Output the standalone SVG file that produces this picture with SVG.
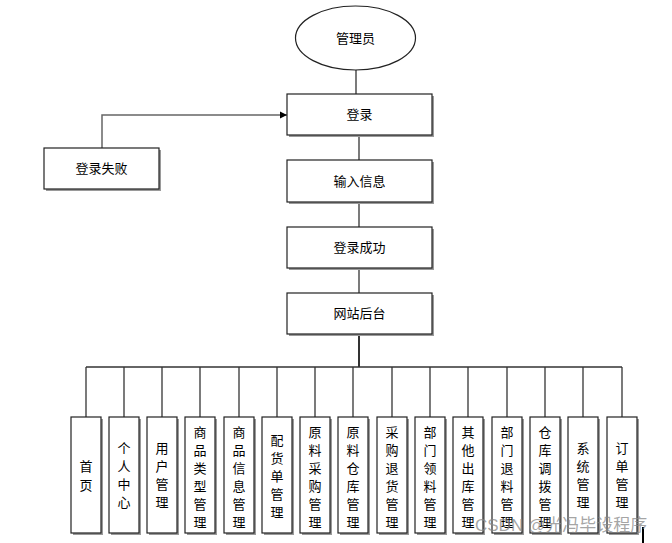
<svg xmlns="http://www.w3.org/2000/svg" width="672" height="543" viewBox="0 0 672 543">
<defs>
<style>
.box{fill:#fff;stroke:#222;stroke-width:1.2}
.sh{fill:#9a9a9a}
.t{font-family:"Liberation Sans","Noto Sans CJK SC",sans-serif;font-size:13px;fill:#000;text-anchor:middle;dominant-baseline:central}
.ln{fill:none;stroke:#333;stroke-width:1.3}
</style>
<marker id="arr" markerWidth="8" markerHeight="8" refX="7" refY="4" orient="auto" markerUnits="userSpaceOnUse">
<path d="M0,0.5 L7,4 L0,7.5 z" fill="#000"/>
</marker>
</defs>
<rect width="672" height="543" fill="#fff"/>
<g id="connectors">
<line class="ln" x1="356" y1="70" x2="356" y2="94"/>
<line class="ln" x1="359" y1="135" x2="359" y2="160"/>
<line class="ln" x1="359" y1="202" x2="359" y2="227"/>
<line class="ln" x1="359" y1="268" x2="359" y2="293"/>
<line class="ln" x1="359" y1="334" x2="359" y2="367" style="stroke-width:2"/>
<polyline class="ln" points="102,148 102,115 287,115" marker-end="url(#arr)" style="stroke:#666;stroke-width:1.5"/>
<line class="ln" x1="86" y1="367" x2="622" y2="367" style="stroke-width:1.6"/>
<g id="drops">
<line class="ln" x1="86" y1="367" x2="86" y2="417"/>
<line class="ln" x1="124" y1="367" x2="124" y2="417"/>
<line class="ln" x1="162" y1="367" x2="162" y2="417"/>
<line class="ln" x1="200" y1="367" x2="200" y2="417"/>
<line class="ln" x1="239" y1="367" x2="239" y2="417"/>
<line class="ln" x1="277" y1="367" x2="277" y2="417"/>
<line class="ln" x1="315" y1="367" x2="315" y2="417"/>
<line class="ln" x1="353" y1="367" x2="353" y2="417"/>
<line class="ln" x1="392" y1="367" x2="392" y2="417"/>
<line class="ln" x1="430" y1="367" x2="430" y2="417"/>
<line class="ln" x1="468" y1="367" x2="468" y2="417"/>
<line class="ln" x1="507" y1="367" x2="507" y2="417"/>
<line class="ln" x1="545" y1="367" x2="545" y2="417"/>
<line class="ln" x1="583" y1="367" x2="583" y2="417"/>
<line class="ln" x1="622" y1="367" x2="622" y2="417"/>
</g>
</g>
<g id="admin">
<ellipse cx="355.5" cy="38" rx="60" ry="32" fill="#fff" stroke="#222" stroke-width="1.2"/>
<text class="t" x="355.5" y="38">管理员</text>
</g>
<g id="login">
<rect class="sh" x="289" y="96" width="145" height="41"/>
<rect class="box" x="287" y="94" width="145" height="41"/>
<text class="t" x="359.5" y="114.5">登录</text>
</g>
<g id="loginfail">
<rect class="sh" x="46" y="150" width="115" height="41"/>
<rect class="box" x="44" y="148" width="115" height="41"/>
<text class="t" x="101.5" y="168.5">登录失败</text>
</g>
<g id="input">
<rect class="sh" x="289" y="162" width="145" height="42"/>
<rect class="box" x="287" y="160" width="145" height="42"/>
<text class="t" x="359.5" y="181">输入信息</text>
</g>
<g id="loginok">
<rect class="sh" x="289" y="229" width="145" height="41"/>
<rect class="box" x="287" y="227" width="145" height="41"/>
<text class="t" x="359.5" y="247.5">登录成功</text>
</g>
<g id="backend">
<rect class="sh" x="289" y="295" width="145" height="41"/>
<rect class="box" x="287" y="293" width="145" height="41"/>
<text class="t" x="359.5" y="313.5">网站后台</text>
</g>
<g id="m1"><rect class="sh" x="73" y="419" width="30" height="116"/><rect class="box" x="71" y="417" width="30" height="116"/>
<text class="t" x="86"><tspan x="86" y="466">首</tspan><tspan x="86" y="485">页</tspan></text></g>
<g id="m2"><rect class="sh" x="111" y="419" width="30" height="116"/><rect class="box" x="109" y="417" width="30" height="116"/>
<text class="t"><tspan x="124" y="448">个</tspan><tspan x="124" y="466">人</tspan><tspan x="124" y="484">中</tspan><tspan x="124" y="502">心</tspan></text></g>
<g id="m3"><rect class="sh" x="149" y="419" width="30" height="116"/><rect class="box" x="147" y="417" width="30" height="116"/>
<text class="t"><tspan x="162" y="448">用</tspan><tspan x="162" y="466">户</tspan><tspan x="162" y="484">管</tspan><tspan x="162" y="502">理</tspan></text></g>
<g id="m4"><rect class="sh" x="187" y="419" width="30" height="116"/><rect class="box" x="185" y="417" width="30" height="116"/>
<text class="t"><tspan x="200" y="432">商</tspan><tspan x="200" y="450">品</tspan><tspan x="200" y="468">类</tspan><tspan x="200" y="486">型</tspan><tspan x="200" y="504">管</tspan><tspan x="200" y="522">理</tspan></text></g>
<g id="m5"><rect class="sh" x="226" y="419" width="30" height="116"/><rect class="box" x="224" y="417" width="30" height="116"/>
<text class="t"><tspan x="239" y="432">商</tspan><tspan x="239" y="450">品</tspan><tspan x="239" y="468">信</tspan><tspan x="239" y="486">息</tspan><tspan x="239" y="504">管</tspan><tspan x="239" y="522">理</tspan></text></g>
<g id="m6"><rect class="sh" x="264" y="419" width="30" height="116"/><rect class="box" x="262" y="417" width="30" height="116"/>
<text class="t"><tspan x="277" y="440">配</tspan><tspan x="277" y="458">货</tspan><tspan x="277" y="476">单</tspan><tspan x="277" y="494">管</tspan><tspan x="277" y="512">理</tspan></text></g>
<g id="m7"><rect class="sh" x="302" y="419" width="30" height="116"/><rect class="box" x="300" y="417" width="30" height="116"/>
<text class="t"><tspan x="315" y="432">原</tspan><tspan x="315" y="450">料</tspan><tspan x="315" y="468">采</tspan><tspan x="315" y="486">购</tspan><tspan x="315" y="504">管</tspan><tspan x="315" y="522">理</tspan></text></g>
<g id="m8"><rect class="sh" x="340" y="419" width="30" height="116"/><rect class="box" x="338" y="417" width="30" height="116"/>
<text class="t"><tspan x="353" y="432">原</tspan><tspan x="353" y="450">料</tspan><tspan x="353" y="468">仓</tspan><tspan x="353" y="486">库</tspan><tspan x="353" y="504">管</tspan><tspan x="353" y="522">理</tspan></text></g>
<g id="m9"><rect class="sh" x="379" y="419" width="30" height="116"/><rect class="box" x="377" y="417" width="30" height="116"/>
<text class="t"><tspan x="392" y="432">采</tspan><tspan x="392" y="450">购</tspan><tspan x="392" y="468">退</tspan><tspan x="392" y="486">货</tspan><tspan x="392" y="504">管</tspan><tspan x="392" y="522">理</tspan></text></g>
<g id="m10"><rect class="sh" x="417" y="419" width="30" height="116"/><rect class="box" x="415" y="417" width="30" height="116"/>
<text class="t"><tspan x="430" y="432">部</tspan><tspan x="430" y="450">门</tspan><tspan x="430" y="468">领</tspan><tspan x="430" y="486">料</tspan><tspan x="430" y="504">管</tspan><tspan x="430" y="522">理</tspan></text></g>
<g id="m11"><rect class="sh" x="455" y="419" width="30" height="116"/><rect class="box" x="453" y="417" width="30" height="116"/>
<text class="t"><tspan x="468" y="432">其</tspan><tspan x="468" y="450">他</tspan><tspan x="468" y="468">出</tspan><tspan x="468" y="486">库</tspan><tspan x="468" y="504">管</tspan><tspan x="468" y="522">理</tspan></text></g>
<g id="m12"><rect class="sh" x="494" y="419" width="30" height="116"/><rect class="box" x="492" y="417" width="30" height="116"/>
<text class="t"><tspan x="507" y="432">部</tspan><tspan x="507" y="450">门</tspan><tspan x="507" y="468">退</tspan><tspan x="507" y="486">料</tspan><tspan x="507" y="504">管</tspan><tspan x="507" y="522">理</tspan></text></g>
<g id="m13"><rect class="sh" x="532" y="419" width="30" height="116"/><rect class="box" x="530" y="417" width="30" height="116"/>
<text class="t"><tspan x="545" y="432">仓</tspan><tspan x="545" y="450">库</tspan><tspan x="545" y="468">调</tspan><tspan x="545" y="486">拨</tspan><tspan x="545" y="504">管</tspan><tspan x="545" y="522">理</tspan></text></g>
<g id="m14"><rect class="sh" x="570" y="419" width="30" height="116"/><rect class="box" x="568" y="417" width="30" height="116"/>
<text class="t"><tspan x="583" y="448">系</tspan><tspan x="583" y="466">统</tspan><tspan x="583" y="484">管</tspan><tspan x="583" y="502">理</tspan></text></g>
<g id="m15"><rect class="sh" x="609" y="419" width="30" height="116"/><rect class="box" x="607" y="417" width="30" height="116"/>
<text class="t"><tspan x="622" y="448">订</tspan><tspan x="622" y="466">单</tspan><tspan x="622" y="484">管</tspan><tspan x="622" y="502">理</tspan></text></g>
<line x1="643" y1="527" x2="643" y2="543" stroke="#000" stroke-width="2"/>
<text x="475" y="531" font-family="'Liberation Sans','Noto Sans CJK SC',sans-serif" font-size="17" fill="#888" fill-opacity="0.75">CSDN @光冯毕设程序</text>
</svg>
